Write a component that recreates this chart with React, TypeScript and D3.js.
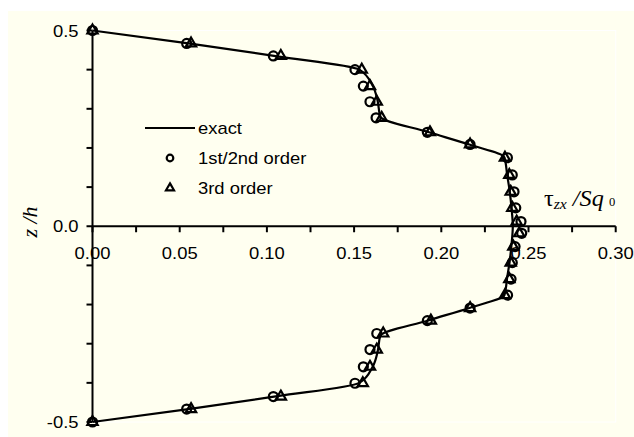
import React from "react";
import * as d3 from "d3";

// Through-thickness positions z/h of the sampled points
const zPoints = [
  0.5, 0.467, 0.435, 0.4, 0.358, 0.318, 0.277, 0.24, 0.209, 0.175, 0.131, 0.088, 0.047, 0.012,
  -0.018, -0.052, -0.093, -0.135, -0.176, -0.209, -0.241, -0.274, -0.315, -0.359, -0.401, -0.435, -0.467, -0.5,
];
// 1st/2nd order (circles)
const tauFirst = [
  0.0, 0.054, 0.1037, 0.1505, 0.1553, 0.1591, 0.1626, 0.192, 0.2165, 0.2379, 0.2407, 0.2417, 0.2427, 0.2457,
  0.2461, 0.2423, 0.2407, 0.24, 0.238, 0.2165, 0.192, 0.163, 0.1591, 0.1553, 0.1505, 0.1037, 0.054, 0.0,
];
// 3rd order (triangles)
const tauThird = [
  0.0, 0.0565, 0.108, 0.1544, 0.1591, 0.163, 0.1658, 0.1935, 0.2165, 0.2365, 0.239, 0.2398, 0.2407, 0.2432,
  0.2447, 0.2413, 0.2398, 0.239, 0.2365, 0.2165, 0.194, 0.1667, 0.163, 0.1591, 0.155, 0.108, 0.0565, 0.0,
];
// exact solution
const zExact = [
  0.5, 0.467, 0.434, 0.4, 0.36, 0.32, 0.28, 0.24, 0.208, 0.176, 0.13, 0.09, 0.045, 0.0,
  -0.045, -0.09, -0.13, -0.176, -0.208, -0.24, -0.28, -0.32, -0.36, -0.4, -0.434, -0.467, -0.5,
];
const tauExact = [
  0.0, 0.055, 0.106, 0.153, 0.1605, 0.1635, 0.165, 0.193, 0.2165, 0.2362, 0.2378, 0.2392, 0.2403, 0.241,
  0.2403, 0.2392, 0.2378, 0.2362, 0.2165, 0.193, 0.165, 0.1635, 0.1605, 0.153, 0.106, 0.055, 0.0,
];

const xTickValues = [0, 0.025, 0.05, 0.075, 0.1, 0.125, 0.15, 0.175, 0.2, 0.225, 0.25, 0.275, 0.3];
const xTickLabels = ["0.00", "0.05", "0.10", "0.15", "0.20", "0.25", "0.30"];
const xLabelValues = [0, 0.05, 0.1, 0.15, 0.2, 0.25, 0.3];
const yTickValues = [-0.5, -0.4, -0.3, -0.2, -0.1, 0, 0.1, 0.2, 0.3, 0.4, 0.5];
const yLabelValues = [0.5, 0.0, -0.5];
const yTickLabels = ["0.5", "0.0", "-0.5"];
const legendLabels = ["exact", "1st/2nd order", "3rd order"];

const W = 634;
const H = 437;
const BG = "#fffff0";
const SANS = "Arial, 'Liberation Sans', Helvetica, sans-serif";
const SERIF = "'Times New Roman', 'Liberation Serif', serif";
const SX = 1.15;

export default function App() {
  const x = d3.scaleLinear().domain([0, 0.3]).range([92.5, 615.7]);
  const y = d3.scaleLinear().domain([-0.5, 0.5]).range([422, 30.5]);

  const exactPts: [number, number][] = zExact.map((z, i) => [x(tauExact[i]), y(z)]);
  const line = d3.line<[number, number]>().curve(d3.curveMonotoneY)(exactPts) || "";

  const tri = d3.symbol().type(d3.symbolTriangle).size(46)() || "";
  const triSmall = d3.symbol().type(d3.symbolTriangle).size(28)() || "";

  const [x0, x1] = x.range();
  const [yb, yt] = y.range();

  return (
    <svg width={W} height={H} style={{ position: "absolute", left: 0, top: 0 }}>
      <rect x={0} y={0} width={W} height={H} fill="#ffffff" />
      <rect x={8} y={11} width={W - 8} height={H - 11} fill={BG} />
      <rect x={x0} y={yt} width={x1 - x0} height={yb - yt} fill={BG} stroke="#ffffff" strokeWidth={1} />

      {/* exact line */}
      <path d={line} fill="none" stroke="#000" strokeWidth={2.2} />

      {/* axes */}
      <line x1={x0} x2={x0} y1={yt} y2={yb} stroke="#000" strokeWidth={2} />
      <line x1={x0} x2={x1} y1={y(0)} y2={y(0)} stroke="#000" strokeWidth={2} />
      {xTickValues.map((v) => (
        <line key={"xt" + v} x1={x(v)} x2={x(v)} y1={y(0)} y2={y(0) + 6} stroke="#000" strokeWidth={2} />
      ))}
      {yTickValues.map((v) => (
        <line key={"yt" + v} x1={x0 - 6} x2={x0} y1={y(v)} y2={y(v)} stroke="#000" strokeWidth={2} />
      ))}
      {xLabelValues.map((v, i) => (
        <text
          key={"xl" + v}
          transform={`translate(${x(v)},${y(0) + 33}) scale(${SX},1)`}
          textAnchor="middle"
          fontFamily={SANS}
          fontSize={16}
          fill="#000"
        >
          {xTickLabels[i]}
        </text>
      ))}
      {yLabelValues.map((v, i) => (
        <text
          key={"yl" + v}
          transform={`translate(${x0 - 14},${y(v) + 6}) scale(${SX},1)`}
          textAnchor="end"
          fontFamily={SANS}
          fontSize={16}
          fill="#000"
        >
          {yTickLabels[i]}
        </text>
      ))}

      {/* markers */}
      {zPoints.map((z, i) => (
        <circle key={"c" + i} cx={x(tauFirst[i])} cy={y(z)} r={4.5} fill="none" stroke="#000" strokeWidth={2.2} />
      ))}
      {zPoints.map((z, i) => (
        <path
          key={"t" + i}
          d={tri}
          transform={`translate(${x(tauThird[i])},${y(z)})`}
          fill="none"
          stroke="#000"
          strokeWidth={2.2}
        />
      ))}

      {/* legend */}
      <line x1={145} x2={195} y1={128} y2={128} stroke="#000" strokeWidth={2.2} />
      <circle cx={170} cy={158} r={3.3} fill="none" stroke="#000" strokeWidth={2.2} />
      <path d={triSmall} transform="translate(170,188)" fill="none" stroke="#000" strokeWidth={2.2} />
      {legendLabels.map((t, i) => (
        <text
          key={t}
          transform={`translate(198,${134 + i * 30}) scale(${SX},1)`}
          fontFamily={SANS}
          fontSize={16}
          fill="#000"
        >
          {t}
        </text>
      ))}

      {/* axis titles */}
      <text
        transform={`translate(37,222) rotate(-90)`}
        textAnchor="middle"
        fontFamily={SERIF}
        fontStyle="italic"
        fontSize={22}
        fill="#000"
      >
        z /h
      </text>
      <text transform={`translate(544,206) scale(1.05,1)`} fontFamily={SERIF} fontSize={23} fill="#000">
        <tspan>τ</tspan>
        <tspan fontSize={15} fontStyle="italic" dy={3}>zx</tspan>
        <tspan fontStyle="italic" dy={-3}> /Sq</tspan>
        <tspan fontSize={12} dx={5}>0</tspan>
      </text>
    </svg>
  );
}
